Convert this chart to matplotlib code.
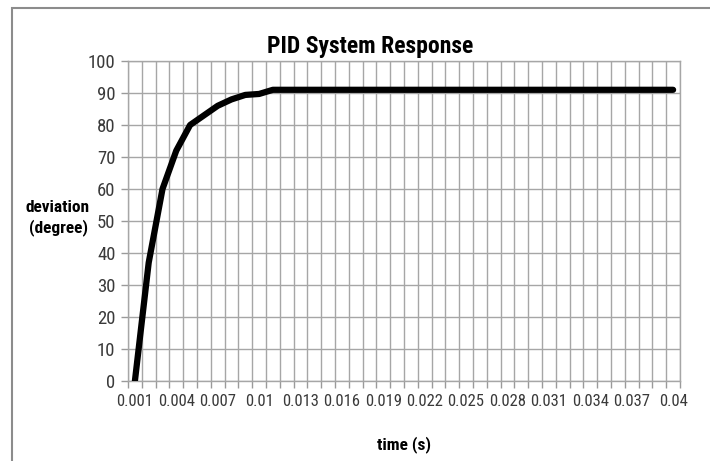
import matplotlib
matplotlib.use("Agg")
import matplotlib.pyplot as plt
from matplotlib.patches import Rectangle
from matplotlib.ticker import FixedLocator
from matplotlib import font_manager as fm

# Data
time_labels = [f"{(i)/1000:g}" for i in range(1, 41)]
deviation = [0, 37, 60, 72, 80, 83, 86, 88, 89.4, 89.7, 91,
             91, 91, 91, 91, 91, 91, 91, 91, 91, 91, 91, 91, 91, 91,
             91, 91, 91, 91, 91, 91, 91, 91, 91, 91, 91, 91, 91, 91, 91]
y_ticks = list(range(0, 101, 10))

# find a narrow/condensed family if one exists
narrow = None
cands = [f for f in fm.fontManager.ttflist
         if ('narrow' in f.name.lower() or 'condensed' in f.name.lower()
             or (isinstance(f.stretch, str) and 'condensed' in f.stretch)
             or (isinstance(f.stretch, int) and f.stretch < 500))]
pref = ['Liberation Sans Narrow', 'Roboto Condensed', 'Open Sans Condensed',
        'DejaVu Sans Condensed', 'DejaVu Sans']
for p in pref:
    for f in cands:
        if f.name == p:
            narrow = f
            break
    if narrow:
        break
if narrow is None and cands:
    narrow = cands[0]

if narrow is not None:
    FONT = [narrow.name, 'DejaVu Sans']
    STRETCH = narrow.stretch
    SCALE = 1.0
else:
    FONT = ['Liberation Sans', 'DejaVu Sans']
    STRETCH = 'normal'
    SCALE = 0.88

W, H = 710, 461
fig = plt.figure(figsize=(W / 100, H / 100), dpi=100)

# outer chart border (left/top visible)
fig.patches.append(Rectangle((12 / W, -0.1), 1.2, (H - 8) / H + 0.1,
                             transform=fig.transFigure, fill=False,
                             edgecolor='#8c8c8c', linewidth=1.5))

ax = fig.add_axes([128 / W, 80 / H, 552 / W, 320 / H])
x = list(range(len(deviation)))
ax.plot(x, deviation, color='black', linewidth=4.5, solid_capstyle='round',
        solid_joinstyle='round', zorder=3)

ax.set_xlim(-0.5, len(deviation) - 0.5)
ax.set_ylim(0, 100)

major = list(range(0, len(deviation), 3))
ax.xaxis.set_major_locator(FixedLocator(major))
ax.set_xticklabels([time_labels[i] for i in major])
ax.xaxis.set_minor_locator(FixedLocator([i - 0.5 for i in range(len(deviation) + 1)]))
ax.tick_params(axis='x', which='major', length=0, pad=9)
ax.tick_params(axis='x', which='minor', length=5, color='#9a9a9a', width=1)
ax.grid(True, axis='x', which='minor', color='#a6a6a6', linewidth=1)

ax.set_yticks(y_ticks)
ax.tick_params(axis='y', which='major', length=5, color='#9a9a9a', width=1, pad=4)
ax.grid(True, axis='y', which='major', color='#a6a6a6', linewidth=1)
ax.set_axisbelow(True)

for lab in ax.get_xticklabels():
    lab.set_family(FONT)
    lab.set_stretch(STRETCH)
    lab.set_fontsize(12 * SCALE)
    lab.set_color('#3a3a3a')
for lab in ax.get_yticklabels():
    lab.set_family(FONT)
    lab.set_stretch(STRETCH)
    lab.set_fontsize(13.5 * SCALE)
    lab.set_color('#3a3a3a')

for s in ax.spines.values():
    s.set_color('#a6a6a6')
    s.set_linewidth(1)

fig.text(370 / W, 1 - 46 / H, 'PID System Response', ha='center', va='center',
         family=FONT, stretch=STRETCH, fontsize=17 * SCALE, fontweight='bold',
         color='black')
fig.text(58 / W, 1 - 218 / H, 'deviation\n(degree)', ha='center', va='center',
         family=FONT, stretch=STRETCH, fontsize=12.5 * SCALE, fontweight='bold',
         color='black', linespacing=1.25)
fig.text(404 / W, 1 - 445 / H, 'time (s)', ha='center', va='center',
         family=FONT, stretch=STRETCH, fontsize=12.5 * SCALE, fontweight='bold',
         color='black')

fig.savefig('out.png', dpi=100)
